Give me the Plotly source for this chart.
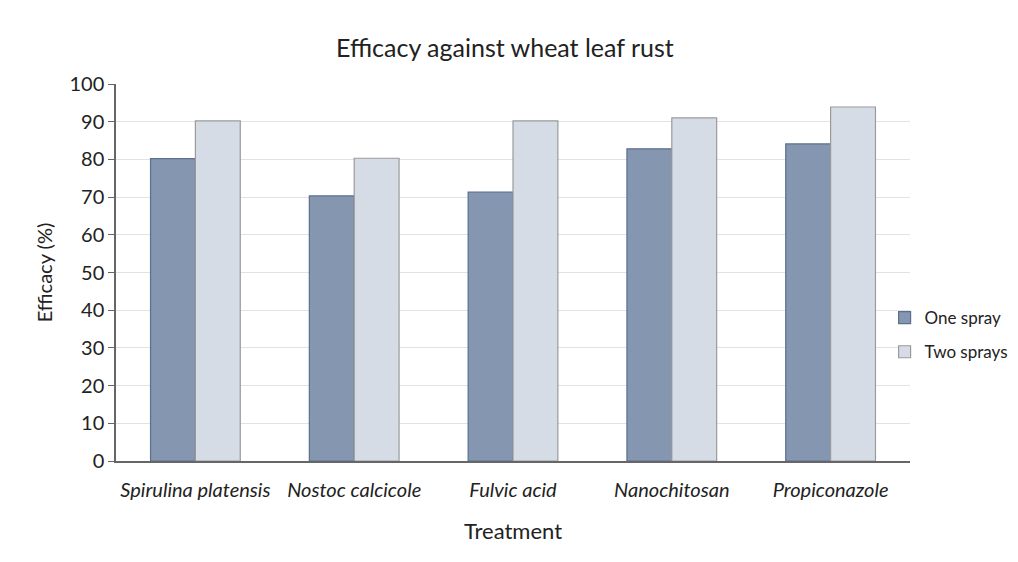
import plotly.graph_objects as go

categories = ["Spirulina platensis", "Nostoc calcicole", "Fulvic acid", "Nanochitosan", "Propiconazole"]
one_spray = [80.2, 70.3, 71.3, 82.8, 84.1]
two_sprays = [90.2, 80.3, 90.2, 91.0, 93.9]
tick_labels = ["<i>%s</i>" % c for c in categories]

fig = go.Figure()
fig.add_trace(go.Bar(
    x=categories, y=one_spray, name="One spray", legendgroup="a",
    marker=dict(color="#8496B0", line=dict(color="#5B6F8E", width=1.2)),
))
fig.add_trace(go.Bar(
    x=categories, y=two_sprays, name="Two sprays", legendgroup="b",
    marker=dict(color="#D6DCE5", line=dict(color="#9A9A9A", width=1.2)),
))

font_family = "Lato, Open Sans, sans-serif"
fig.update_layout(
    width=1010, height=554,
    margin=dict(l=108, r=108, t=76, b=101, autoexpand=False),
    paper_bgcolor="white", plot_bgcolor="white",
    barmode="group", bargap=0.435, bargroupgap=0.0,
    font=dict(family=font_family, size=18, color="#222"),
    title=dict(text="Efficacy against wheat leaf rust", x=0.492, xanchor="center",
               xref="container", y=0.927, yanchor="middle", yref="container",
               font=dict(size=25, color="#222")),
    legend=dict(x=0.968, xanchor="left", y=0.334, yanchor="middle",
                traceorder="grouped", tracegroupgap=9,
                font=dict(size=17, color="#222"), itemwidth=30, bgcolor="rgba(0,0,0,0)"),
    xaxis=dict(
        tickmode="array", tickvals=categories, ticktext=tick_labels,
        showline=True, linecolor="#666", linewidth=1.5, ticks="",
        ticklabelstandoff=10,
        title=dict(text="Treatment", font=dict(size=22), standoff=24),
        tickfont=dict(size=20),
    ),
    yaxis=dict(
        range=[0, 100], dtick=10, showgrid=True, gridcolor="#E2E2E2", gridwidth=1,
        showline=True, linecolor="#666", linewidth=1.5, ticks="outside", ticklen=6,
        tickcolor="#666", zeroline=False,
        title=dict(text="Efficacy (%)", font=dict(size=20), standoff=11),
        tickfont=dict(size=20),
    ),
)

fig.write_html("out.html")
